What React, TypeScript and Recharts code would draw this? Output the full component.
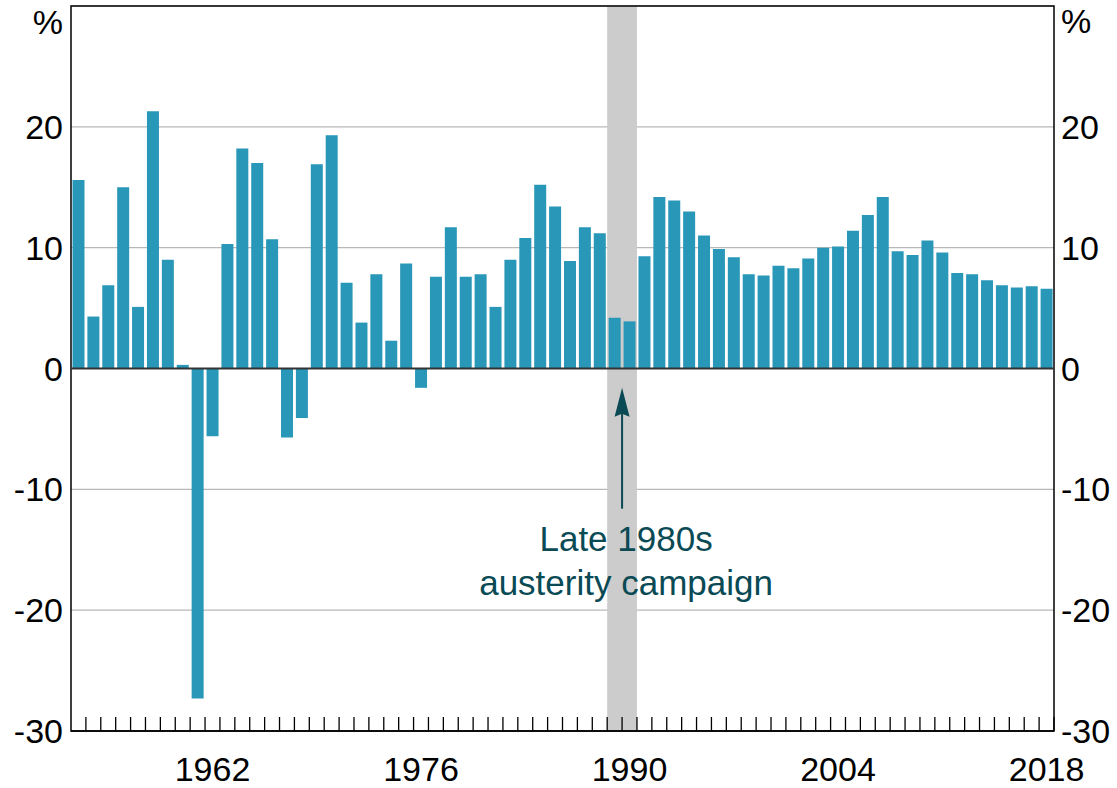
import { Bar, BarChart, CartesianGrid, ReferenceArea, ReferenceLine, XAxis, YAxis } from "recharts";

const years = [
  "1953", "1954", "1955", "1956", "1957", "1958", "1959", "1960", "1961", "1962",
  "1963", "1964", "1965", "1966", "1967", "1968", "1969", "1970", "1971", "1972",
  "1973", "1974", "1975", "1976", "1977", "1978", "1979", "1980", "1981", "1982",
  "1983", "1984", "1985", "1986", "1987", "1988", "1989", "1990", "1991", "1992",
  "1993", "1994", "1995", "1996", "1997", "1998", "1999", "2000", "2001", "2002",
  "2003", "2004", "2005", "2006", "2007", "2008", "2009", "2010", "2011", "2012",
  "2013", "2014", "2015", "2016", "2017", "2018",
];

// annual real GDP growth, %
const growth = [
  15.6, 4.3, 6.9, 15.0, 5.1, 21.3, 9.0, 0.3, -27.3, -5.6,
  10.3, 18.2, 17.0, 10.7, -5.7, -4.1, 16.9, 19.3, 7.1, 3.8,
  7.8, 2.3, 8.7, -1.6, 7.6, 11.7, 7.6, 7.8, 5.1, 9.0,
  10.8, 15.2, 13.4, 8.9, 11.7, 11.2, 4.2, 3.9, 9.3, 14.2,
  13.9, 13.0, 11.0, 9.9, 9.2, 7.8, 7.7, 8.5, 8.3, 9.1,
  10.0, 10.1, 11.4, 12.7, 14.2, 9.7, 9.4, 10.6, 9.6, 7.9,
  7.8, 7.3, 6.9, 6.7, 6.8, 6.6,
];

const labelYears = ["1962", "1976", "1990", "2004", "2018"];
const yTicks = [-30, -20, -10, 0, 10, 20, 30];
const shadeFrom = "1989";
const shadeTo = "1990";
const annotationLines = ["Late 1980s", "austerity campaign"];

const data = years.map((year, i) => ({ year, value: growth[i] }));

const FONT = "'Liberation Sans', Arial, sans-serif";
const BAR = "#2997b8";
const NOTE = "#0a4a55";

const YearTick = (props: any) => {
  const { x, y, payload } = props;
  const half = payload?.offset ?? 7.45;
  const year = String(payload.value);
  return (
    <g>
      <line x1={x + half} x2={x + half} y1={y} y2={y - 14} stroke="#000" strokeWidth={1.3} />
      {labelYears.includes(year) ? (
        <text x={x} y={y + 50} textAnchor="middle" fontSize={34} fill="#000">
          {year}
        </text>
      ) : null}
    </g>
  );
};

const Arrow = (props: any) => {
  const { x, y, width, height } = props;
  const cx = x + width / 2;
  const bottom = y + height;
  return (
    <g>
      <line x1={cx} x2={cx} y1={bottom} y2={y + 24} stroke={NOTE} strokeWidth={2} />
      <polygon
        points={`${cx},${y} ${cx - 7.5},${y + 29} ${cx},${y + 26} ${cx + 7.5},${y + 29}`}
        fill={NOTE}
      />
      {annotationLines.map((line, i) => (
        <text
          key={line}
          x={cx + 4}
          y={bottom + 42 + i * 44}
          textAnchor="middle"
          fontSize={35}
          fill={NOTE}
        >
          {line}
        </text>
      ))}
    </g>
  );
};

export default function App() {
  return (
    <div style={{ position: "absolute", left: 0, top: 0, background: "#fff" }}>
      <BarChart
        width={1117}
        height={788}
        data={data}
        margin={{ top: 6, right: 0, bottom: 0, left: 0 }}
        barCategoryGap="10%"
        style={{ fontFamily: FONT }}
      >
        <CartesianGrid yAxisId="left" vertical={false} stroke="#b8b8b8" strokeWidth={1.2} />
        <XAxis
          dataKey="year"
          interval={0}
          height={57}
          tickSize={0}
          tickMargin={0}
          tickLine={false}
          axisLine={{ stroke: "#000", strokeWidth: 1.5 }}
          tick={<YearTick />}
        />
        <YAxis
          yAxisId="left"
          width={71}
          domain={[-30, 30]}
          ticks={yTicks}
          tickFormatter={(v) => (v === 30 ? "" : String(v))}
          tickSize={0}
          tickMargin={8}
          tickLine={false}
          axisLine={false}
          tick={{ fontSize: 34, fill: "#000" }}
          label={{ value: "%", position: "insideTopRight", offset: 8, dy: -4, fontSize: 34, fill: "#000" }}
        />
        <YAxis
          yAxisId="right"
          orientation="right"
          width={63}
          domain={[-30, 30]}
          ticks={yTicks}
          allowDataOverflow
          tickFormatter={(v) => (v === 30 ? "" : String(v))}
          tickSize={0}
          tickMargin={7}
          tickLine={false}
          axisLine={false}
          tick={{ fontSize: 34, fill: "#000" }}
          label={{ value: "%", position: "insideTopLeft", offset: 7, dy: -4, fontSize: 34, fill: "#000" }}
        />
        <ReferenceLine yAxisId="left" y={0} stroke="#333" strokeWidth={2} />
        <ReferenceArea
          yAxisId="left"
          x1={shadeFrom}
          x2={shadeTo}
          y1={-30}
          y2={30}
          fill="#cccccc"
          fillOpacity={1}
          stroke="none"
        />
        <Bar yAxisId="left" dataKey="value" fill={BAR} isAnimationActive={false} />
        <ReferenceArea
          yAxisId="left"
          x1={shadeFrom}
          x2={shadeTo}
          y1={-11.6}
          y2={-1.6}
          shape={<Arrow />}
        />
        <ReferenceArea
          yAxisId="left"
          x1={years[0]}
          x2={years[years.length - 1]}
          y1={-30}
          y2={30}
          fill="none"
          stroke="#000"
          strokeWidth={1.5}
        />
      </BarChart>
    </div>
  );
}
